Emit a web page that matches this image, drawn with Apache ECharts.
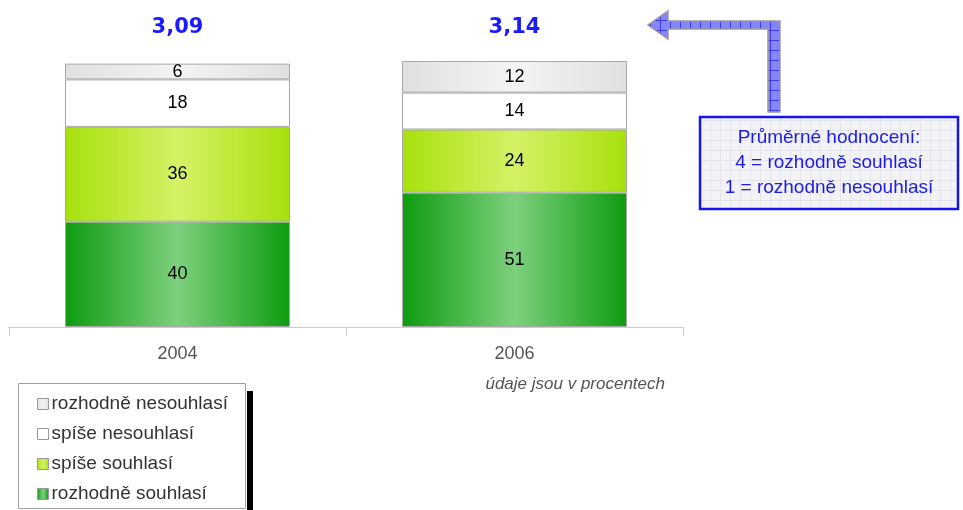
<!DOCTYPE html>
<html>
<head>
<meta charset="utf-8">
<script src="https://cdn.jsdelivr.net/npm/echarts@6/dist/echarts.min.js"></script>
<style>
  html, body { margin: 0; padding: 0; background: #fff; }
  #chart { width: 963px; height: 510px; }
</style>
</head>
<body>
<div id="chart"></div>
<script>
// Survey years and answer shares (percent)
var years = ['2004', '2006'];
var rozhodneSouhlasi = [40, 51];
var spiseSouhlasi = [36, 24];
var spiseNesouhlasi = [18, 14];
var rozhodneNesouhlasi = [6, 12];
// Average rating per year (4 = strongly agree, 1 = strongly disagree)
var averages = ['3,09', '3,14'];
var seriesNames = ['rozhodně souhlasí', 'spíše souhlasí', 'spíše nesouhlasí', 'rozhodně nesouhlasí'];

var FONT = '"Liberation Sans", Arial, sans-serif';
var WIDE_FONT = '"DejaVu Sans", Verdana, sans-serif';

function hGrad(edge, mid) {
  return new echarts.graphic.LinearGradient(0, 0, 1, 0, [
    { offset: 0, color: edge },
    { offset: 0.5, color: mid },
    { offset: 1, color: edge }
  ]);
}

// Small tiled grid used as texture for the arrow and the callout box
function gridPattern(size, bg, line) {
  var c = document.createElement('canvas');
  c.width = size; c.height = size;
  var g = c.getContext('2d');
  g.fillStyle = bg;
  g.fillRect(0, 0, size, size);
  g.fillStyle = line;
  g.fillRect(0, 0, size, 1);
  g.fillRect(0, 0, 1, size);
  return { image: c, repeat: 'repeat' };
}

var palette = [
  hGrad('#0e9c10', '#7dd07d'),
  hGrad('#a8e00c', '#d4f266'),
  '#ffffff',
  hGrad('#e0e0e0', '#f4f4f4')
];

function barSeries(name, data, color) {
  return {
    name: name,
    type: 'bar',
    stack: 'total',
    barWidth: 225,
    data: data,
    itemStyle: { color: color, borderColor: '#a8a8a8', borderWidth: 1 },
    label: {
      show: true,
      position: 'inside',
      color: '#000',
      fontSize: 18,
      fontFamily: FONT
    },
    emphasis: { disabled: true }
  };
}

var chart = echarts.init(document.getElementById('chart'), null, { renderer: 'canvas' });

var option = {
  animation: false,
  backgroundColor: '#fff',
  grid: { left: 9, right: 280, top: 61, bottom: 183, containLabel: false },
  xAxis: {
    type: 'category',
    data: years,
    axisLine: { lineStyle: { color: '#cccccc', width: 1 } },
    axisTick: { show: true, length: 9, lineStyle: { color: '#cccccc' } },
    axisLabel: { color: '#555', fontSize: 18, fontFamily: FONT, margin: 18 }
  },
  yAxis: {
    type: 'value',
    min: 0,
    max: 101,
    show: false
  },
  legend: {
    orient: 'vertical',
    left: 18,
    top: 383,
    height: 200,
    padding: [11, 18, 6, 19],
    itemGap: 10,
    itemWidth: 11,
    itemHeight: 11,
    data: ['rozhodně nesouhlasí', 'spíše nesouhlasí', 'spíše souhlasí', 'rozhodně souhlasí'],
    icon: 'rect',
    textStyle: { color: '#333', fontSize: 19, fontFamily: FONT, lineHeight: 20, padding: [0, 0, 0, -2] },
    itemStyle: { borderColor: '#999', borderWidth: 1 },
    selectedMode: false
  },
  series: [
    barSeries(seriesNames[0], rozhodneSouhlasi, palette[0]),
    barSeries(seriesNames[1], spiseSouhlasi, palette[1]),
    barSeries(seriesNames[2], spiseNesouhlasi, palette[2]),
    barSeries(seriesNames[3], rozhodneNesouhlasi, palette[3])
  ]
};

chart.setOption(option);

// Average ratings above each column, legend frame, and the explanatory callout with its arrow
var graphics = [];
years.forEach(function (y, i) {
  var px = chart.convertToPixel({ xAxisIndex: 0 }, y);
  graphics.push({
    type: 'text',
    x: px,
    y: 28,
    style: {
      text: averages[i],
      fill: '#1a1aff',
      font: 'bold 21px ' + WIDE_FONT,
      textAlign: 'center',
      textVerticalAlign: 'middle'
    }
  });
});

// legend frame with its dark drop shadow on the right
graphics.push({
  type: 'rect', z: -1,
  shape: { x: 247, y: 391, width: 6, height: 130 },
  style: { fill: '#000' }
});
graphics.push({
  type: 'rect', z: -1,
  shape: { x: 18.5, y: 383.5, width: 227, height: 125 },
  style: { fill: '#fff', stroke: '#a0a0a0', lineWidth: 1 }
});

graphics.push({
  type: 'polygon',
  shape: {
    points: [[648, 25], [668, 11], [668, 21], [780, 21], [780, 112], [768, 112],
             [768, 29], [668, 29], [668, 39]]
  },
  style: { fill: gridPattern(10, '#8585f5', '#3c3cf0'), stroke: '#9a9a9a', lineWidth: 1.5 }
});

graphics.push({
  type: 'rect',
  shape: { x: 700, y: 117, width: 258, height: 92 },
  style: { fill: gridPattern(10, '#f3f3f6', '#e4e4ec'), stroke: '#1515f0', lineWidth: 2.5 }
});

graphics.push({
  type: 'text',
  x: 829,
  y: 163,
  style: {
    text: 'Průměrné hodnocení:\n4 = rozhodně souhlasí\n1 = rozhodně nesouhlasí',
    fill: '#1c1ce6',
    font: '19px ' + FONT,
    lineHeight: 25,
    textAlign: 'center',
    textVerticalAlign: 'middle'
  }
});

graphics.push({
  type: 'text',
  x: 665,
  y: 384,
  style: {
    text: 'údaje jsou v procentech',
    fill: '#555',
    font: 'italic 17px ' + FONT,
    textAlign: 'right',
    textVerticalAlign: 'middle'
  }
});

chart.setOption({ graphic: graphics });
</script>
</body>
</html>
